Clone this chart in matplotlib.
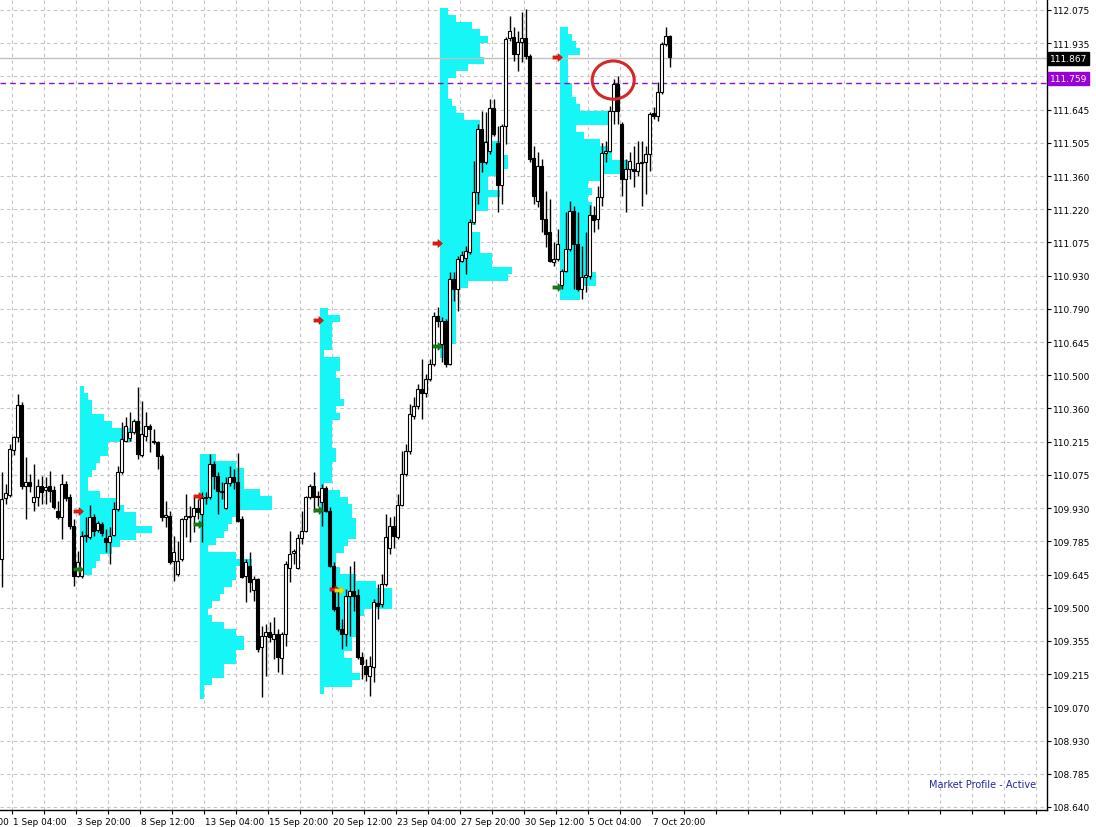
import numpy as np
import matplotlib
matplotlib.use("Agg")
import matplotlib.pyplot as plt
from matplotlib.patches import Ellipse
import matplotlib.transforms as mtransforms

# ---- H4 candles (one every bar index) ----
opens = [109.708, 109.971, 109.984, 110.178, 110.234, 110.372, 110.023, 110.040, 109.954, 109.976,
         110.023, 110.006, 110.023, 110.006, 109.915, 109.889, 110.031, 109.976, 109.851, 109.635,
         109.635, 109.812, 109.803, 109.889, 109.833, 109.859, 109.799, 109.782, 109.812, 109.924,
         110.083, 110.217, 110.230, 110.256, 110.303, 110.156, 110.238, 110.282, 110.217, 110.213,
         110.152, 109.889, 109.894, 109.700, 109.644, 109.708, 109.881, 109.889, 109.894, 109.928,
         109.902, 109.976, 109.976, 110.118, 110.066, 109.997, 109.928, 110.036, 110.062, 110.040,
         109.881, 109.635, 109.678, 109.575, 109.622, 109.329, 109.377, 109.394, 109.364, 109.385,
         109.282, 109.385, 109.670, 109.735, 109.670, 109.799, 109.829, 109.976, 110.023, 109.980,
         109.954, 110.015, 109.915, 109.678, 109.502, 109.407, 109.385, 109.549, 109.570, 109.553,
         109.286, 109.247, 109.204, 109.243, 109.519, 109.515, 109.601, 109.756, 109.851, 109.803,
         109.941, 110.075, 110.174, 110.325, 110.368, 110.441, 110.424, 110.484, 110.549, 110.756,
         110.635, 110.734, 110.549, 110.915, 110.872, 110.993, 111.006, 111.032, 111.161, 111.290,
         111.562, 111.419, 111.467, 111.652, 111.501, 111.320, 111.575, 111.954, 111.958, 111.885,
         111.937, 111.954, 111.876, 111.437, 111.251, 111.402, 111.174, 111.118, 110.989, 111.001,
         110.889, 110.950, 111.045, 111.208, 111.066, 110.872, 110.924, 110.928, 111.191, 111.174,
         111.269, 111.458, 111.467, 111.639, 111.756, 111.583, 111.346, 111.389, 111.389, 111.381,
         111.415, 111.419, 111.454, 111.631, 111.618, 111.721, 111.928, 111.963]
highs = [110.083, 110.031, 110.204, 110.238, 110.420, 110.385, 110.148, 110.075, 110.118, 110.053,
         110.066, 110.062, 110.088, 110.023, 109.958, 110.075, 110.045, 109.989, 109.881, 109.743,
         109.829, 109.889, 109.941, 109.902, 109.872, 109.868, 109.838, 109.846, 109.954, 110.109,
         110.299, 110.320, 110.342, 110.312, 110.450, 110.390, 110.342, 110.290, 110.269, 110.217,
         110.161, 109.958, 109.915, 109.808, 109.786, 109.885, 109.989, 109.937, 109.980, 109.967,
         109.997, 109.997, 110.161, 110.131, 110.083, 110.040, 110.062, 110.109, 110.096, 110.165,
         109.894, 109.708, 109.739, 109.635, 109.627, 109.420, 109.428, 109.437, 109.458, 109.407,
         109.394, 109.700, 109.829, 109.752, 109.816, 109.915, 109.980, 110.031, 110.083, 110.002,
         110.031, 110.023, 109.933, 109.696, 109.579, 109.450, 109.579, 109.678, 109.700, 109.579,
         109.308, 109.277, 109.290, 109.536, 109.601, 109.644, 109.902, 109.889, 109.894, 109.989,
         110.174, 110.204, 110.377, 110.407, 110.463, 110.570, 110.506, 110.570, 110.773, 110.795,
         110.751, 110.743, 110.945, 110.945, 111.014, 111.036, 111.058, 111.174, 111.424, 111.583,
         111.639, 111.635, 111.691, 111.691, 111.575, 111.583, 111.958, 112.049, 112.001, 111.984,
         112.066, 112.079, 111.885, 111.488, 111.463, 111.432, 111.295, 111.260, 111.075, 111.131,
         110.958, 111.204, 111.251, 111.230, 111.204, 111.058, 111.118, 111.234, 111.230, 111.316,
         111.501, 111.510, 111.661, 111.777, 111.790, 111.592, 111.432, 111.463, 111.488, 111.510,
         111.510, 111.488, 111.635, 111.657, 111.764, 111.937, 112.001, 111.968]
lows = [109.588, 109.945, 109.976, 110.156, 110.213, 110.010, 109.881, 109.997, 109.915, 109.937,
        109.945, 109.945, 109.954, 109.924, 109.881, 109.795, 109.958, 109.838, 109.592, 109.631,
        109.627, 109.782, 109.795, 109.808, 109.825, 109.808, 109.739, 109.687, 109.808, 109.915,
        110.075, 110.213, 110.217, 110.247, 110.139, 110.148, 110.217, 110.170, 110.204, 110.096,
        109.872, 109.846, 109.687, 109.614, 109.635, 109.700, 109.803, 109.782, 109.825, 109.881,
        109.782, 109.945, 109.967, 110.010, 109.902, 109.967, 109.924, 110.023, 110.010, 109.868,
        109.627, 109.523, 109.566, 109.527, 109.308, 109.114, 109.204, 109.351, 109.277, 109.221,
        109.213, 109.333, 109.609, 109.687, 109.665, 109.773, 109.825, 109.967, 109.911, 109.937,
        109.851, 109.911, 109.674, 109.484, 109.398, 109.320, 109.333, 109.377, 109.484, 109.277,
        109.191, 109.183, 109.118, 109.178, 109.450, 109.502, 109.592, 109.730, 109.756, 109.795,
        109.937, 110.066, 110.161, 110.312, 110.355, 110.312, 110.407, 110.476, 110.540, 110.708,
        110.558, 110.536, 110.545, 110.820, 110.777, 110.989, 110.937, 111.023, 111.152, 111.238,
        111.376, 111.411, 111.454, 111.532, 111.204, 111.238, 111.497, 111.941, 111.855, 111.812,
        111.850, 111.863, 111.419, 111.238, 111.226, 111.118, 111.053, 110.989, 110.971, 110.993,
        110.872, 110.945, 111.036, 110.872, 110.864, 110.829, 110.859, 110.915, 111.118, 111.131,
        111.230, 111.419, 111.463, 111.583, 111.583, 111.273, 111.204, 111.346, 111.312, 111.359,
        111.230, 111.282, 111.381, 111.605, 111.596, 111.713, 111.920, 111.829]
closes = [109.967, 109.993, 110.182, 110.234, 110.372, 110.023, 110.040, 110.023, 109.976, 110.023,
          109.997, 110.019, 110.002, 109.933, 109.889, 110.031, 109.971, 109.851, 109.635, 109.696,
          109.808, 109.808, 109.889, 109.829, 109.864, 109.821, 109.782, 109.808, 109.924, 110.083,
          110.226, 110.282, 110.256, 110.303, 110.161, 110.247, 110.282, 110.269, 110.213, 110.152,
          109.889, 109.898, 109.696, 109.739, 109.700, 109.881, 109.894, 109.894, 109.928, 109.911,
          109.971, 109.971, 110.118, 110.066, 110.002, 110.002, 110.036, 110.062, 110.040, 109.872,
          109.631, 109.696, 109.609, 109.622, 109.320, 109.377, 109.394, 109.372, 109.385, 109.286,
          109.385, 109.687, 109.730, 109.743, 109.799, 109.829, 109.976, 110.023, 109.976, 109.976,
          110.015, 109.915, 109.678, 109.493, 109.407, 109.385, 109.549, 109.570, 109.549, 109.286,
          109.256, 109.213, 109.247, 109.523, 109.506, 109.601, 109.803, 109.851, 109.808, 109.941,
          110.075, 110.174, 110.333, 110.368, 110.441, 110.424, 110.484, 110.549, 110.756, 110.734,
          110.734, 110.549, 110.915, 110.872, 111.001, 111.019, 111.036, 111.161, 111.290, 111.562,
          111.419, 111.506, 111.652, 111.540, 111.320, 111.575, 111.950, 111.984, 111.885, 111.937,
          111.954, 111.876, 111.432, 111.273, 111.402, 111.174, 111.109, 110.993, 111.001, 111.066,
          110.950, 111.045, 111.208, 111.066, 110.872, 110.924, 110.933, 111.191, 111.170, 111.269,
          111.458, 111.467, 111.639, 111.756, 111.639, 111.346, 111.389, 111.424, 111.381, 111.415,
          111.419, 111.454, 111.626, 111.618, 111.721, 111.928, 111.963, 111.872]

# ---- weekly market profiles (TPO counts per price bin, from top bin down) ----
bin_h = 0.0302
profile_start = [20, 50, 80, 110, 140]
profile_top = [110.454, 110.161, 110.790, 112.083, 112.001]
profile_1 = [1, 2, 3, 3, 6, 8, 13, 13, 7, 7, 5, 4, 3, 2, 2, 5, 9, 11, 14, 14, 18, 14, 10, 8, 5, 4, 3]
profile_2 = [4, 9, 11, 11, 11, 15, 18, 18, 9, 8, 7, 6, 4, 2, 9, 13, 9, 9, 8, 6, 5, 3, 2, 3, 6, 9,
             11, 11, 9, 9, 6, 6, 3, 1, 1]
profile_3 = [2, 5, 3, 3, 3, 3, 1, 5, 5, 4, 5, 5, 5, 6, 4, 5, 3, 3, 3, 3, 4, 4, 3, 3, 3, 1, 5, 7, 8,
             8, 9, 9, 9, 7, 6, 4, 4, 5, 9, 14, 18, 18, 18, 11, 9, 9, 9, 8, 8, 6, 8, 8, 10, 8, 1]
profile_4 = [2, 4, 8, 10, 12, 10, 10, 11, 7, 4, 2, 2, 2, 3, 4, 6, 10, 10, 10, 16, 16, 17, 17, 16,
             12, 12, 15, 12, 12, 9, 9, 8, 10, 10, 10, 13, 13, 18, 17, 7, 4, 4, 4, 4, 4, 4, 4, 4, 2, 2]
profile_5 = [2, 3, 4, 5, 2, 2, 2, 2, 3, 3, 4, 5, 12, 12, 4, 6, 10, 13, 13, 17, 17, 10, 7, 8, 7, 8,
             8, 8, 8, 7, 7, 7, 7, 7, 8, 9, 9, 5, 5]
profiles = [profile_1, profile_2, profile_3, profile_4, profile_5]

# session marker arrows
red_arrow_x = [19.1, 49.1, 79.1, 83.1, 108.9, 138.9]
red_arrow_y = [109.915, 109.980, 110.739, 109.579, 111.071, 111.872]
green_arrow_x = [19.1, 49.1, 79.1, 108.9, 138.9]
green_arrow_y = [109.665, 109.859, 109.920, 110.627, 110.881]
yellow_arrow_x = [84.4]
yellow_arrow_y = [109.575]

# price axis / time axis labels
price_labels = ["108.640", "108.785", "108.930", "109.070", "109.215", "109.355", "109.500",
                "109.645", "109.785", "109.930", "110.075", "110.215", "110.360", "110.500",
                "110.645", "110.790", "110.930", "111.075", "111.220", "111.360", "111.505",
                "111.645", "111.790", "111.935", "112.075"]
time_labels = ["31 Aug 12:00", "1 Sep 04:00", "3 Sep 20:00", "8 Sep 12:00", "13 Sep 04:00",
               "15 Sep 20:00", "20 Sep 12:00", "23 Sep 04:00", "27 Sep 20:00", "30 Sep 12:00",
               "5 Oct 04:00", "7 Oct 20:00"]
ask_price = 111.867
line_price = 111.759

plt.rcParams['font.family'] = ['DejaVu Sans']
fig = plt.figure(figsize=(10.96, 8.28), dpi=100)
fig.patch.set_facecolor('white')
ax = fig.add_axes([0, 1 - 811 / 828, 1047 / 1096, 811 / 828])
ax.set_facecolor('white')

n = len(opens)
x = np.arange(n)
o = np.array(opens); h = np.array(highs); l = np.array(lows); c = np.array(closes)

# profiles
cyan = '#16f6f6'
for start, top, counts in zip(profile_start, profile_top, profiles):
    centers = top - bin_h * (np.arange(len(counts)) + 0.5)
    ax.barh(centers, counts, left=start - 0.4, height=bin_h, color=cyan, lw=0, zorder=1)

# candles
ax.vlines(x, l, h, color='black', lw=1.0, zorder=3)
up = c >= o
body_lo = np.minimum(o, c)
body_h = np.maximum(np.abs(c - o), 0.002)
ax.bar(x[up], body_h[up], bottom=body_lo[up], width=0.62, color='white',
       edgecolor='black', lw=0.8, zorder=4)
ax.bar(x[~up], body_h[~up], bottom=body_lo[~up], width=0.62, color='black',
       edgecolor='black', lw=0.8, zorder=4)

# arrows
arrow = [(-1, -0.32), (0.1, -0.32), (0.1, -0.8), (1, 0), (0.1, 0.8), (0.1, 0.32), (-1, 0.32)]
ax.plot(red_arrow_x, red_arrow_y, ls='none', marker=arrow, ms=7, color='#e41b12', mec='#b00000', mew=0.4, zorder=5)
ax.plot(green_arrow_x, green_arrow_y, ls='none', marker=arrow, ms=7, color='#1c7a1c', mec='#0c5a0c', mew=0.4, zorder=5)
ax.plot(yellow_arrow_x, yellow_arrow_y, ls='none', marker=arrow, ms=7, color='#f2e200', mec='#d0c000', mew=0.4, zorder=5)

# price lines
ax.axhline(ask_price, color='#c0c0c0', lw=1, zorder=2)
ax.axhline(line_price, color='#8a10c8', lw=1, ls=(0, (4, 3)), zorder=2)

# highlight circle around the top candle pair
circ_x = 152.9
circ_y = highs[154] - 0.017
ax.add_patch(Ellipse((circ_x, circ_y), 10.5, 0.165, fill=False, edgecolor='#d42828', lw=2.2, zorder=6))

# axes
yt = np.linspace(108.640, 112.075, len(price_labels))
ax.yaxis.tick_right()
ax.set_yticks(yt)
ax.set_yticklabels(price_labels, fontsize=6.5)
grid_x = 2.6 + 8 * np.arange(0, 33)
ax.set_xticks(grid_x)
ax.set_xticklabels([])
ymin = 112.1224 - 0.00431 * 811
ax.set_ylim(ymin, 112.1224)
ax.set_xlim(-0.4, -0.4 + 1047 / 4)
ax.tick_params(axis='both', direction='out', length=3, width=0.8, color='black', pad=1.5)
ax.grid(True, color='#c4c4c4', ls=(0, (3, 3)), lw=0.8)
ax.set_axisbelow(True)
for side in ['left', 'top']:
    ax.spines[side].set_visible(False)
for side in ['right', 'bottom']:
    ax.spines[side].set_color('black')
    ax.spines[side].set_linewidth(1)

trans = mtransforms.blended_transform_factory(ax.transData, ax.transAxes)
for k, lab in enumerate(time_labels):
    ax.text(2.6 + 16 * (k - 1) + 0.3, -0.009, lab, transform=trans, fontsize=6.4,
            ha='left', va='top', clip_on=False)

ytrans = mtransforms.blended_transform_factory(ax.transAxes, ax.transData)
ax.text(1.0 + 3 / 1047, ask_price, "111.867", transform=ytrans, fontsize=6.5, color='white',
        ha='left', va='center', bbox=dict(boxstyle='square,pad=0.2', fc='black', ec='black'))
ax.text(1.0 + 3 / 1047, line_price + 0.02, "111.759", transform=ytrans, fontsize=6.5, color='white',
        ha='left', va='center', bbox=dict(boxstyle='square,pad=0.2', fc='#9a00d6', ec='#9a00d6'))

ax.text(0.99, 0.032, 'Market Profile - Active', transform=ax.transAxes, ha='right', va='center',
        color='#2525a0', fontsize=7)

fig.savefig('out.png', dpi=100)
